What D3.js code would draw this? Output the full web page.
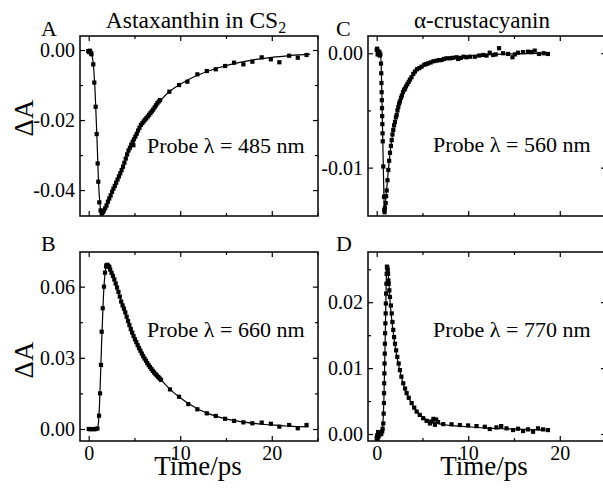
<!DOCTYPE html>
<html><head><meta charset="utf-8">
<script src="https://cdn.jsdelivr.net/npm/d3@7"></script>
<style>body{margin:0;background:#fff}svg{display:block}svg text{font-family:"Liberation Serif","Times New Roman",Tinos,Times,"DejaVu Serif",serif !important;fill:#000}</style>
</head><body><svg id="c" width="603" height="488"></svg>
<script>
// ---------- DATA ----------
const xTicks = [0, 10, 20];
const xMinorTicks = [5, 15, 25];

// Panel A: Astaxanthin in CS2, probe 485 nm
const tA = [-0.05,0.05,0.15,0.25,0.3,0.5,0.61,0.76,0.87,0.98,1.05,1.16,1.3,1.42,1.55,1.65,1.8,1.95,2.1,2.25,2.4,2.55,2.7,2.85,3.0,3.15,3.3,3.45,3.6,3.75,3.9,4.05,4.2,4.35,4.5,4.65,4.8,4.88,4.95,5.1,5.25,5.4,5.55,5.7,5.85,6.0,6.15,6.3,6.45,6.6,6.75,6.9,7.05,7.2,7.35,7.5,7.65,7.8,8.81,9.87,10.78,11.87,12.9,13.88,14.9,15.88,16.9,17.88,18.9,19.9,20.83,21.9,22.84,23.8];
const dA = [-0.0003,-0.0006,-0.0002,-0.0009,-0.0012,-0.0041,-0.0093,-0.0162,-0.024,-0.0324,-0.0376,-0.0435,-0.0458,-0.0467,-0.0463,-0.0459,-0.0452,-0.0444,-0.0433,-0.0424,-0.0415,-0.0405,-0.0396,-0.0388,-0.0379,-0.037,-0.0361,-0.0352,-0.0343,-0.0333,-0.0322,-0.031,-0.0298,-0.0287,-0.0279,-0.027,-0.0262,-0.0272,-0.0255,-0.0247,-0.0239,-0.023,-0.0222,-0.0214,-0.0209,-0.0204,-0.0199,-0.0195,-0.019,-0.0185,-0.018,-0.0175,-0.017,-0.0164,-0.0158,-0.0152,-0.0147,-0.0143,-0.0119,-0.01,-0.00905,-0.00695,-0.006,-0.0055,-0.00457,-0.00362,-0.0041,-0.00334,-0.0021,-0.00266,-0.0035,-0.00163,-0.0022,-0.00143];
const fitTA = [0,0.3,0.5,0.7,0.9,1.1,1.3,1.45,1.7,2.2,2.8,3.3,3.9,4.4,5,5.6,6.3,7,7.8,8.8,10,11.8,14,16,18,20,22,24.2];
const fitDA = [0,-0.001,-0.004,-0.012,-0.025,-0.039,-0.0455,-0.0467,-0.0458,-0.0425,-0.039,-0.0358,-0.032,-0.0285,-0.025,-0.022,-0.0193,-0.017,-0.0145,-0.0119,-0.0098,-0.0073,-0.0052,-0.0038,-0.0028,-0.0021,-0.0016,-0.0012];

// Panel B: Astaxanthin in CS2, probe 660 nm
const tB = [0,0.2,0.4,0.6,0.8,0.95,1.13,1.24,1.34,1.42,1.53,1.67,1.78,1.9,1.96,2.05,2.15,2.25,2.35,2.5,2.65,2.8,2.95,3.1,3.25,3.4,3.55,3.7,3.85,4.0,4.15,4.3,4.45,4.6,4.75,4.9,5.05,5.2,5.35,5.5,5.65,5.8,5.95,6.1,6.25,6.4,6.55,6.7,6.85,7.0,7.15,7.3,7.45,7.6,7.75,7.9,8.88,9.87,10.88,11.87,12.9,13.88,14.9,15.88,16.9,17.88,18.9,19.9,20.83,21.9,22.84,23.8];
const dB = [0,-0.0001,0,-0.0001,0,0.0002,0.0056,0.015,0.027,0.041,0.0509,0.06,0.0659,0.0685,0.0691,0.0692,0.0687,0.0683,0.0672,0.0658,0.0645,0.063,0.0613,0.0596,0.0578,0.0558,0.0537,0.0521,0.0507,0.0491,0.0473,0.0455,0.0438,0.0421,0.0406,0.0392,0.0378,0.0366,0.0353,0.0341,0.033,0.0318,0.0307,0.0297,0.0288,0.0278,0.0269,0.0261,0.0253,0.0245,0.0238,0.0231,0.0225,0.0219,0.0213,0.0207,0.0167,0.0136,0.0105,0.0083,0.0066,0.0055,0.0043,0.0034,0.0028,0.0024,0.0027,0.0022,0.001,0.0017,0.0003,0.0017];
const fitTB = [0,0.9,1.05,1.2,1.4,1.6,1.8,2.0,2.3,2.8,3.5,4.3,5,6,7,8,9,10,11,12,13,14,15,16,17,18,19,20,21,22,23,24];
const fitDB = [0,0,0.002,0.012,0.035,0.055,0.066,0.069,0.0675,0.0625,0.0545,0.0455,0.038,0.0305,0.0245,0.0203,0.0163,0.0132,0.0105,0.0083,0.0066,0.0053,0.0043,0.0035,0.0029,0.0024,0.002,0.0017,0.0014,0.0012,0.001,0.0009];

// Panel C: alpha-crustacyanin, probe 560 nm
const tC = [0,0.05,0.1,0.15,0.2,0.25,0.3,0.35,0.4,0.47,0.5,0.52,0.54,0.56,0.58,0.6,0.62,0.64,0.66,0.72,0.8,0.83,0.86,0.9,0.98,1.03,1.09,1.18,1.27,1.36,1.45,1.55,1.64,1.72,1.81,1.9,2.0,2.1,2.18,2.27,2.36,2.45,2.54,2.65,2.75,2.87,3.0,3.09,3.2,3.35,3.5,3.63,3.8,4.0,4.18,4.4,4.65,4.9,5.2,5.4,5.63,5.9,6.2,6.54,6.8,7.09,7.35,7.63,8.0,8.3,8.72,8.9,9.2,9.5,9.81,10.2,10.72,11.2,11.63,12.0,12.35,12.72,13.0,13.37,13.8,14.35,14.83,15.1,15.44,15.99,16.53,16.9,17.26,17.73,18.24,18.7];
const dC = [0.0003,0.0004,-0.0001,0.0002,0,-0.0001,0.0001,-0.0002,-0.0001,-0.0009,-0.00175,-0.0026,-0.0034,-0.0041,-0.0048,-0.0055,-0.0062,-0.007,-0.0077,-0.0099,-0.01255,-0.0137,-0.0139,-0.0135,-0.0131,-0.0125,-0.012,-0.0111,-0.0102,-0.0094,-0.0087,-0.0081,-0.0076,-0.0071,-0.0067,-0.0063,-0.006,-0.0056,-0.0054,-0.005,-0.0047,-0.0044,-0.0042,-0.0039,-0.0037,-0.0034,-0.0032,-0.0031,-0.0029,-0.0027,-0.0025,-0.0023,-0.0021,-0.0018,-0.0016,-0.0014,-0.0013,-0.00117,-0.001,-0.00095,-0.00088,-0.0008,-0.0007,-0.00065,-0.0006,-0.00059,-0.0005,-0.00044,-0.00044,-0.0004,-0.00035,-0.0005,-0.0004,-0.0003,-0.00035,-0.0003,-0.0003,-0.0002,-0.00015,-0.0002,0.00005,-0.00015,-0.0001,0.00044,0,-0.00006,-0.00035,-0.0001,0.00005,0.0001,0.00014,0.0001,0.00023,-0.00006,0,-0.00006];
const fitTC = [0,0.4,0.5,0.6,0.7,0.8,0.85,0.95,1.1,1.3,1.6,2,2.5,3,3.6,4.2,5,6,7,8,9,11,13,15,18.7];
const fitDC = [0,0,-0.0012,-0.005,-0.009,-0.0128,-0.0136,-0.0131,-0.0118,-0.01,-0.0078,-0.006,-0.0044,-0.0032,-0.0024,-0.0017,-0.0012,-0.0008,-0.0005,-0.0004,-0.0003,-0.00018,-0.0001,-0.00005,0];

// Panel D: alpha-crustacyanin, probe 770 nm
const tD = [0,0.05,0.1,0.15,0.2,0.3,0.4,0.5,0.6,0.65,0.72,0.76,0.79,0.8,0.82,0.84,0.86,0.88,0.9,0.92,0.95,0.98,1.0,1.03,1.06,1.09,1.12,1.16,1.2,1.24,1.28,1.31,1.38,1.45,1.55,1.64,1.72,1.81,1.9,2.0,2.12,2.25,2.4,2.54,2.7,2.9,3.1,3.27,3.5,3.82,4.1,4.36,4.7,5.08,5.45,5.81,6.0,6.2,6.36,6.5,6.7,7.27,8.18,9.08,9.99,10.9,11.81,12.35,13.08,13.6,14.18,14.9,15.44,15.99,16.53,17.08,17.62,18.17,18.7];
const dD = [-0.0006,-0.0002,-0.0009,0.0003,-0.0004,-0.0001,0.0002,0,0.0004,0.0008,0.0016,0.0031,0.0047,0.0062,0.0077,0.0092,0.0107,0.0122,0.0137,0.0153,0.0168,0.0183,0.0198,0.0213,0.0228,0.0243,0.0254,0.0252,0.0249,0.0243,0.0233,0.0228,0.0218,0.0208,0.0195,0.0183,0.017,0.0158,0.0147,0.0137,0.0127,0.0117,0.0107,0.0097,0.0087,0.0077,0.0069,0.0062,0.0055,0.0047,0.004,0.0034,0.0029,0.0024,0.002,0.0016,0.0019,0.0023,0.0014,0.0022,0.0018,0.0015,0.00147,0.00136,0.0013,0.0012,0.0011,0.00076,0.001,0.0012,0.00086,0.0006,0.0008,0.00045,0.0007,0.00035,0.00086,0.0007,0.0006];
const fitTD = [0,0.5,0.65,0.8,0.95,1.05,1.15,1.3,1.5,1.8,2.2,2.6,3,3.5,4,4.5,5,6,7,8,10,12,14,16,18.7];
const fitDD = [0,0,0.001,0.006,0.016,0.0235,0.0255,0.0235,0.0195,0.0155,0.0118,0.0092,0.0072,0.0055,0.0042,0.0033,0.0026,0.0019,0.0015,0.0013,0.0011,0.0009,0.0008,0.0007,0.0006];

const yTicksA = [0, -0.02, -0.04], yMinorA = [-0.01, -0.03];
const yTicksB = [0, 0.03, 0.06], yMinorB = [0.015, 0.045];
const yTicksC = [0, -0.01], yMinorC = [-0.005];
const yTicksD = [0, 0.01, 0.02], yMinorD = [0.005, 0.015, 0.025];

// ---------- DRAW ----------
const FONT = '"Liberation Serif","Times New Roman",Tinos,Times,"DejaVu Serif",serif';
const svg = d3.select("#c");
const xDomain = [-0.95, 25.05];

function panel(o) {
  const x = d3.scaleLinear().domain(xDomain).range([o.x0, o.x1]);
  const y = d3.scaleLinear().domain(o.yDomain).range([o.y1, o.y0]);
  const g = svg.append("g");
  const clipId = "clip" + o.letter;
  svg.append("clipPath").attr("id", clipId).append("rect")
    .attr("x", o.x0).attr("y", o.y0).attr("width", o.x1 - o.x0).attr("height", o.y1 - o.y0);

  const fmtY = d => d3.format(o.yFmt)(d).replace("−", "-");
  const axL = d3.axisLeft(y).tickValues(o.yTicks).tickSize(-5).tickPadding(5).tickFormat(fmtY);
  g.append("g").attr("transform", `translate(${o.x0},0)`).call(axL);
  g.append("g").attr("transform", `translate(${o.x0},0)`).call(d3.axisLeft(y).tickValues(o.yMinor).tickSize(-3).tickFormat(""));
  g.append("g").attr("transform", `translate(${o.x1},0)`).call(d3.axisRight(y).tickValues(o.yTicks).tickSize(-5).tickFormat(""));
  g.append("g").attr("transform", `translate(${o.x1},0)`).call(d3.axisRight(y).tickValues(o.yMinor).tickSize(-3).tickFormat(""));
  const axB = d3.axisBottom(x).tickValues(xTicks).tickSize(-5).tickPadding(5).tickFormat(o.xLabels ? d3.format("d") : "");
  g.append("g").attr("transform", `translate(0,${o.y1})`).call(axB);
  g.append("g").attr("transform", `translate(0,${o.y1})`).call(d3.axisBottom(x).tickValues(xMinorTicks).tickSize(-3).tickFormat(""));
  g.append("g").attr("transform", `translate(0,${o.y0})`).call(d3.axisTop(x).tickValues(xTicks).tickSize(-5).tickFormat(""));
  g.append("g").attr("transform", `translate(0,${o.y0})`).call(d3.axisTop(x).tickValues(xMinorTicks).tickSize(-3).tickFormat(""));
  g.selectAll(".domain").remove();
  g.selectAll("g").attr("font-family", FONT);
  g.selectAll(".tick line").attr("stroke", "#000").attr("stroke-width", 1.2);
  g.selectAll(".tick text").attr("font-size", 20).attr("fill", "#000");
  g.append("rect").attr("x", o.x0).attr("y", o.y0).attr("width", o.x1 - o.x0).attr("height", o.y1 - o.y0)
    .attr("fill", "none").attr("stroke", "#000").attr("stroke-width", 1.5);

  const plot = g.append("g").attr("clip-path", `url(#${clipId})`);
  const fit = o.fitT.map((t, i) => [t, o.fitD[i]]);
  plot.append("path").datum(fit)
    .attr("d", d3.line().x(d => x(d[0])).y(d => y(d[1])).curve(d3.curveMonotoneX))
    .attr("fill", "none").attr("stroke", "#000").attr("stroke-width", 1.2);
  const pts = o.t.map((t, i) => [t, o.d[i]]);
  const s = 4.2;
  plot.selectAll("rect.pt").data(pts).join("rect").attr("class", "pt")
    .attr("x", d => x(d[0]) - s / 2).attr("y", d => y(d[1]) - s / 2)
    .attr("width", s).attr("height", s).attr("fill", "#000");

  svg.append("text").attr("x", o.letterX).attr("y", o.letterY).attr("font-size", 22).text(o.letter);
  svg.append("text").attr("x", o.probeX).attr("y", o.probeY).attr("font-size", 22).text(o.probe);
}

panel({letter: "A", letterX: 41, letterY: 36, x0: 80, x1: 318, y0: 36, y1: 216, yDomain: [-0.0474, 0.004],
  yTicks: yTicksA, yMinor: yMinorA, yFmt: ".2f", xLabels: false, t: tA, d: dA, fitT: fitTA, fitD: fitDA,
  probe: "Probe λ = 485 nm", probeX: 147, probeY: 153});
panel({letter: "B", letterX: 41, letterY: 251, x0: 80, x1: 318, y0: 252, y1: 441, yDomain: [-0.00506, 0.0746],
  yTicks: yTicksB, yMinor: yMinorB, yFmt: ".2f", xLabels: true, t: tB, d: dB, fitT: fitTB, fitD: fitDB,
  probe: "Probe λ = 660 nm", probeX: 147, probeY: 337});
panel({letter: "C", letterX: 336, letterY: 36, x0: 368, x1: 606, y0: 36, y1: 216, yDomain: [-0.01423, 0.00151],
  yTicks: yTicksC, yMinor: yMinorC, yFmt: ".2f", xLabels: false, t: tC, d: dC, fitT: fitTC, fitD: fitDC,
  probe: "Probe λ = 560 nm", probeX: 433, probeY: 152});
panel({letter: "D", letterX: 336, letterY: 251, x0: 368, x1: 606, y0: 252, y1: 441, yDomain: [-0.00106, 0.02762],
  yTicks: yTicksD, yMinor: yMinorD, yFmt: ".2f", xLabels: true, t: tD, d: dD, fitT: fitTD, fitD: fitDD,
  probe: "Probe λ = 770 nm", probeX: 433, probeY: 337});

const t1 = svg.append("text").attr("x", 196).attr("y", 28).attr("font-size", 23.5).attr("text-anchor", "middle");
t1.append("tspan").text("Astaxanthin in CS");
t1.append("tspan").attr("font-size", 16).attr("dy", 5).text("2");
svg.append("text").attr("x", 482).attr("y", 28).attr("font-size", 23).attr("text-anchor", "middle").text("α-crustacyanin");

[[24, 118], [24, 360]].forEach(([cx, cy]) => {
  svg.append("text").attr("transform", `translate(${cx + 9},${cy}) rotate(-90)`)
    .attr("text-anchor", "middle").attr("font-size", 27).text("ΔA");
});
[[198, 475], [484, 475]].forEach(([cx, cy]) => {
  svg.append("text").attr("x", cx).attr("y", cy).attr("text-anchor", "middle").attr("font-size", 27).text("Time/ps");
});
</script></body></html>
